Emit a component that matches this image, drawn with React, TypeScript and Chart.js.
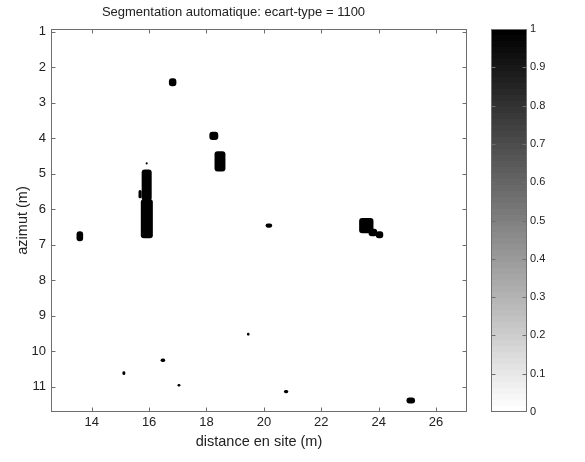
import React, { useEffect, useRef } from "react";
import { Chart, registerables } from "chart.js";

Chart.register(...registerables);

const TITLE = "Segmentation automatique: ecart-type = 1100";
const X_LABEL = "distance en site (m)";
const Y_LABEL = "azimut (m)";

const xTicks = [14, 16, 18, 20, 22, 24, 26];
const yTicks = [1, 2, 3, 4, 5, 6, 7, 8, 9, 10, 11];
const xRange = [12.58, 27.08];
const yRange = [0.925, 11.71];

const cbTicks = [0, 0.1, 0.2, 0.3, 0.4, 0.5, 0.6, 0.7, 0.8, 0.9, 1];
const cbLevels = 64;

// segmented regions (value = 1), each as [x0, x1, y0, y1] in metres
const blobs: [number, number, number, number][] = [
  [13.47, 13.7, 6.62, 6.9],
  [15.74, 16.09, 4.88, 5.76],
  [15.71, 16.13, 5.72, 6.82],
  [15.63, 15.74, 5.46, 5.69],
  [15.88, 15.95, 4.68, 4.74],
  [16.69, 16.95, 2.31, 2.54],
  [18.1, 18.41, 3.82, 4.05],
  [18.28, 18.66, 4.37, 4.94],
  [20.06, 20.29, 6.4, 6.52],
  [23.32, 23.82, 6.25, 6.68],
  [23.65, 23.95, 6.55, 6.76],
  [23.9, 24.16, 6.62, 6.82],
  [19.41, 19.5, 9.48, 9.56],
  [16.4, 16.56, 10.2, 10.3],
  [15.07, 15.17, 10.56, 10.67],
  [16.99, 17.09, 10.92, 10.99],
  [20.7, 20.85, 11.09, 11.18],
  [24.97, 25.27, 11.3, 11.47],
];

const FONT = "'Liberation Sans', Arial, Helvetica, sans-serif";
const TEXT = "#222";
const AXIS = "#6e6e6e";

const blobPlugin = {
  id: "blobs",
  beforeDatasetsDraw(chart: any) {
    const { ctx, chartArea, scales } = chart;
    const x = scales.x;
    const y = scales.y;
    ctx.save();
    ctx.beginPath();
    ctx.rect(chartArea.left, chartArea.top, chartArea.width, chartArea.height);
    ctx.clip();
    ctx.fillStyle = "#000";
    for (const [x0, x1, y0, y1] of blobs) {
      const l = x.getPixelForValue(x0);
      const r = x.getPixelForValue(x1);
      const t = y.getPixelForValue(y0);
      const b = y.getPixelForValue(y1);
      const left = Math.min(l, r);
      const top = Math.min(t, b);
      const w = Math.abs(r - l);
      const h = Math.abs(b - t);
      const rad = Math.min(3, w / 2, h / 2);
      ctx.beginPath();
      ctx.roundRect(left, top, w, h, rad);
      ctx.fill();
    }
    ctx.restore();
  },
};

const frameTicksPlugin = {
  id: "frameTicks",
  afterDraw(chart: any) {
    const { ctx, chartArea, scales } = chart;
    const left = Math.round(chartArea.left) + 0.5;
    const right = Math.round(chartArea.right) - 0.5;
    const top = Math.round(chartArea.top) + 0.5;
    const bottom = Math.round(chartArea.bottom) - 0.5;
    ctx.save();
    ctx.strokeStyle = AXIS;
    ctx.lineWidth = 1;
    ctx.strokeRect(left, top, right - left, bottom - top);
    const len = 4;
    ctx.beginPath();
    if (scales.x && scales.x.options.display !== false) {
      for (const v of xTicks) {
        const px = Math.round(scales.x.getPixelForValue(v)) + 0.5;
        ctx.moveTo(px, bottom);
        ctx.lineTo(px, bottom - len);
        ctx.moveTo(px, top);
        ctx.lineTo(px, top + len);
      }
    }
    const yVals = chart.options.plugins.frameTicks?.yValues || [];
    for (const v of yVals) {
      const py = Math.round(scales.y.getPixelForValue(v)) + 0.5;
      if (py <= top + 1 || py >= bottom - 1) continue;
      ctx.moveTo(left, py);
      ctx.lineTo(left + len, py);
      ctx.moveTo(right, py);
      ctx.lineTo(right - len, py);
    }
    ctx.stroke();
    ctx.restore();
  },
};

export default function App() {
  const mainRef = useRef<HTMLCanvasElement>(null);
  const cbRef = useRef<HTMLCanvasElement>(null);

  useEffect(() => {
    const main = new Chart(mainRef.current as HTMLCanvasElement, {
      type: "scatter",
      data: { datasets: [{ data: [] }] },
      plugins: [blobPlugin, frameTicksPlugin],
      options: {
        animation: false,
        responsive: false,
        layout: { padding: { left: 0, right: 118, top: 0, bottom: 0 } },
        plugins: {
          legend: { display: false },
          tooltip: { enabled: false },
          title: {
            display: true,
            text: TITLE,
            color: TEXT,
            font: { family: FONT, size: 13, weight: "normal", lineHeight: 1.2 },
            padding: { top: 4.7, bottom: 8.7 },
          },
          frameTicks: { yValues: yTicks },
        } as any,
        scales: {
          x: {
            type: "linear",
            min: xRange[0],
            max: xRange[1],
            afterBuildTicks: (s: any) => {
              s.ticks = xTicks.map((v) => ({ value: v }));
            },
            afterFit: (s: any) => {
              s.height = 50;
            },
            grid: { display: false, drawTicks: false },
            border: { display: false },
            ticks: {
              color: TEXT,
              font: { family: FONT, size: 13 },
              padding: 3,
              maxRotation: 0,
              autoSkip: false,
            },
            title: {
              display: true,
              text: X_LABEL,
              color: TEXT,
              font: { family: FONT, size: 14.5, lineHeight: 1.2 },
              padding: { top: 0, bottom: 11.6 },
            },
          },
          y: {
            type: "linear",
            reverse: true,
            min: yRange[0],
            max: yRange[1],
            afterBuildTicks: (s: any) => {
              s.ticks = yTicks.map((v) => ({ value: v }));
            },
            afterFit: (s: any) => {
              s.width = 51;
            },
            grid: { display: false, drawTicks: false },
            border: { display: false },
            ticks: {
              color: TEXT,
              font: { family: FONT, size: 13 },
              padding: 5,
              autoSkip: false,
            },
            title: {
              display: true,
              text: Y_LABEL,
              color: TEXT,
              font: { family: FONT, size: 14.5, lineHeight: 1.2 },
              padding: { top: 13.8, bottom: 0 },
            },
          },
        },
      } as any,
    });

    const cb = new Chart(cbRef.current as HTMLCanvasElement, {
      type: "bar",
      data: {
        labels: [""],
        datasets: [
          {
            data: [[0, 1]] as any,
            borderWidth: 0,
            categoryPercentage: 1,
            barPercentage: 1,
            backgroundColor: (c: any) => {
              const ch = c.chart;
              const a = ch.chartArea;
              if (!a) return "#888";
              const g = ch.ctx.createLinearGradient(0, a.bottom, 0, a.top);
              for (let i = 0; i < cbLevels; i++) {
                const v = Math.round(255 * (1 - i / (cbLevels - 1)));
                const col = `rgb(${v},${v},${v})`;
                g.addColorStop(i / cbLevels, col);
                g.addColorStop((i + 1) / cbLevels, col);
              }
              return g;
            },
          },
        ],
      },
      plugins: [frameTicksPlugin],
      options: {
        animation: false,
        responsive: false,
        layout: { padding: { left: 21, right: 0, top: 29, bottom: 50 } },
        plugins: {
          legend: { display: false },
          tooltip: { enabled: false },
          title: { display: false },
          frameTicks: { yValues: cbTicks },
        } as any,
        scales: {
          x: { display: false },
          y: {
            position: "right",
            min: 0,
            max: 1,
            afterBuildTicks: (s: any) => {
              s.ticks = cbTicks.map((v) => ({ value: v }));
            },
            afterFit: (s: any) => {
              s.width = 58;
            },
            grid: { display: false, drawTicks: false },
            border: { display: false },
            ticks: {
              color: TEXT,
              font: { family: FONT, size: 11 },
              padding: 3,
              autoSkip: false,
              callback: (v: any) => String(Math.round(Number(v) * 10) / 10),
            },
          },
        },
      } as any,
    });

    return () => {
      main.destroy();
      cb.destroy();
    };
  }, []);

  return (
    <div
      style={{
        position: "fixed",
        left: 0,
        top: 0,
        width: 585,
        height: 462,
        background: "#fff",
      }}
    >
      <canvas
        ref={mainRef}
        width={585}
        height={462}
        style={{ position: "absolute", left: 0, top: 0 }}
      />
      <canvas
        ref={cbRef}
        width={115}
        height={462}
        style={{ position: "absolute", left: 470, top: 0 }}
      />
    </div>
  );
}
